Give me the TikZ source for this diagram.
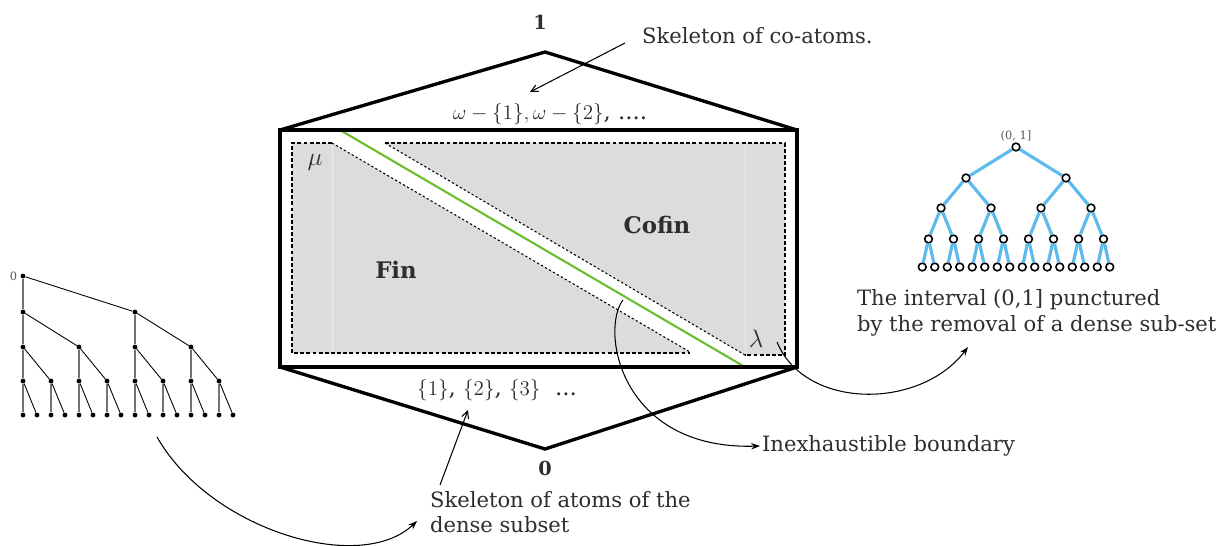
\documentclass[tikz,border=0pt]{standalone}
\usepackage{amsmath,amssymb}
\usepackage{fontspec}
\setmainfont{DejaVu Serif}
\usepackage{xcolor}
\usepackage{tikz}
\usetikzlibrary{positioning,arrows.meta,calc}

\definecolor{zonegray}{RGB}{220,220,220}
\definecolor{seamgray}{RGB}{234,234,234}
\definecolor{boundgreen}{RGB}{106,190,44}
\definecolor{treeblue}{RGB}{92,186,236}
\definecolor{inkgray}{RGB}{45,45,45}

\begin{document}
\begin{tikzpicture}[
    x=0.02cm, y=-0.02cm,
    lbl/.style={font=\fontsize{12}{14.6}\selectfont, text=inkgray, align=left, inner sep=1pt},
    mathlbl/.style={font=\fontsize{13}{15}\selectfont, text=inkgray, inner sep=1pt},
    greeklbl/.style={font=\fontsize{15}{17}\selectfont, text=inkgray, inner sep=1pt},
    boldlbl/.style={font=\fontsize{13}{15}\selectfont\bfseries, text=inkgray},
    toplbl/.style={font=\fontsize{11}{12}\selectfont\bfseries, text=inkgray},
    tinylbl/.style={font=\fontsize{6.5}{7}\selectfont, text=inkgray!80, inner sep=0.5pt},
    hexline/.style={line width=1.9pt, line join=miter},
    grayzone/.style={fill=zonegray, draw=none},
    rimdash/.style={line width=1.2pt, dash pattern=on 2.2pt off 1.3pt},
    diagdot/.style={line width=0.6pt, dash pattern=on 1.3pt off 1.3pt},
    dotnode/.style={circle, fill=black, inner sep=0pt, minimum size=2.8pt},
    ringnode/.style={circle, draw=black, fill=white, line width=0.9pt, inner sep=0pt, minimum size=4.4pt},
    stemline/.style={draw=black!55, line width=0.8pt},
    branchline/.style={draw=black, line width=0.5pt},
    blueline/.style={draw=treeblue, line width=1.8pt},
    arr/.style={-{Straight Barb[length=4pt,width=4pt]}, line width=0.6pt},
    curvearr/.style={-{Stealth[length=5pt,width=3.6pt]}, line width=0.6pt},
  ]
  \useasboundingbox (0,0) rectangle (1226,545);

  % lattice outline corners
  \coordinate (tl)  at (280,130);
  \coordinate (tr)  at (797,130);
  \coordinate (bl)  at (280,367);
  \coordinate (br)  at (797,367);
  \coordinate (top) at (545,52);
  \coordinate (bot) at (545,449);

  % Fin and Cofin zones
  \fill[grayzone] (292,143) -- (332,143) -- (690,352) -- (690,353) -- (292,353) -- cycle;
  \fill[grayzone] (385,143) -- (785,143) -- (785,355) -- (745,355) -- cycle;
  \draw[seamgray, line width=0.5pt] (332,144) -- (332,352);
  \draw[seamgray, line width=0.5pt] (745,144) -- (745,354);
  \draw[rimdash] (332,143) -- (292,143) -- (292,353) -- (690,353);
  \draw[diagdot] (332,143) -- (690,352);
  \draw[rimdash] (385,143) -- (785,143) -- (785,355) -- (745,355);
  \draw[diagdot] (385,143) -- (745,355);
  % inexhaustible boundary
  \draw[boundgreen, line width=1.2pt] (340,130) -- (745,367);

  % hexagon
  \draw[hexline] (tl) -- (top) -- (tr);
  \draw[hexline] (bl) -- (bot) -- (br);
  \draw[hexline] (tl) rectangle (br);

  % labels in the lattice
  \node[toplbl] (one)  at (540,22)  {1};
  \node[toplbl] (zero) at (545,468) {0};
  \node[mathlbl] (coat) at (550,114) {$\omega-\{1\},\omega-\{2\}$, ....};
  \node[mathlbl] (atomset) at (497,390) {$\{1\}$, $\{2\}$, $\{3\}$\ \ ...};
  \node[boldlbl] (fin)   at (396,270) {Fin};
  \node[boldlbl] (cofin) at (657,225) {Cofin};
  \node[greeklbl] (mu)  at (315,163) {$\mu$};
  \node[greeklbl] (lam) at (756,339) {$\lambda$};

  % comments around
  \node[lbl, anchor=west] (coatomslbl) at (640,36) {Skeleton of co-atoms.};
  \node[lbl, anchor=west] (atomslbl)   at (428,512) {Skeleton of atoms of the\\dense subset};
  \node[lbl, anchor=west] (inexlbl)    at (760,446) {Inexhaustible boundary};
  \node[lbl, anchor=west] (punctlbl)   at (855,313) {The interval (0,1] punctured\\by the removal of a dense sub-set};

  % left tree, left child straight below
  \foreach \k/\yy in {0/276,1/312,2/347,3/381,4/415}{
    \pgfmathtruncatemacro{\nn}{2^\k-1}
    \foreach \i in {0,...,\nn}{
      \node[dotnode] (L\k-\i) at ({23+\i*224/2^\k},\yy) {};
    }
  }
  \foreach \k in {1,...,4}{
    \pgfmathtruncatemacro{\pk}{\k-1}
    \pgfmathtruncatemacro{\nn}{2^\pk-1}
    \foreach \j in {0,...,\nn}{
      \pgfmathtruncatemacro{\lc}{2*\j}
      \pgfmathtruncatemacro{\rc}{2*\j+1}
      \draw[stemline] (L\pk-\j) -- (L\k-\lc);
      \draw[branchline] (L\pk-\j) -- (L\k-\rc);
    }
  }
  \node[tinylbl, left=1pt of L0-0] (lroot) {0};

  % right tree (0,1]
  \foreach \k/\yy in {0/147,1/178,2/208,3/239,4/267}{
    \pgfmathtruncatemacro{\nn}{2^\k-1}
    \foreach \i in {0,...,\nn}{
      \node[ringnode] (R\k-\i) at ({916+(2*\i+1)*100/2^\k},\yy) {};
    }
  }
  \foreach \k in {1,...,4}{
    \pgfmathtruncatemacro{\pk}{\k-1}
    \pgfmathtruncatemacro{\nn}{2^\pk-1}
    \foreach \j in {0,...,\nn}{
      \pgfmathtruncatemacro{\lc}{2*\j}
      \pgfmathtruncatemacro{\rc}{2*\j+1}
      \draw[blueline] (R\pk-\j) -- (R\k-\lc);
      \draw[blueline] (R\pk-\j) -- (R\k-\rc);
    }
  }
  \node[tinylbl, above=0pt of R0-0] (rroot) {(0, 1]};

  % arrow ends
  \coordinate (coatail)  at (625,43);
  \coordinate (coatip)   at (530,92);
  \coordinate (atomtail) at (440,485);
  \coordinate (atomtip)  at (468,410);
  \coordinate (treetail) at (157,437);
  \coordinate (treetip)  at (417,521);
  \coordinate (bndtail)  at (623,300);
  \coordinate (lamtail)  at (777,342);
  \coordinate (lamtip)   at (968,347);

  \draw[arr] (coatail) -- (coatip);
  \draw[arr] (atomtail) -- (atomtip);
  \draw[curvearr] (treetail) .. controls (210,530) and (360,575) .. (treetip);
  \draw[curvearr] (bndtail) .. controls (600,330) and (620,450) .. (inexlbl.west);
  \draw[curvearr] (lamtail) .. controls (805,410) and (920,410) .. (lamtip);
\end{tikzpicture}
\end{document}
